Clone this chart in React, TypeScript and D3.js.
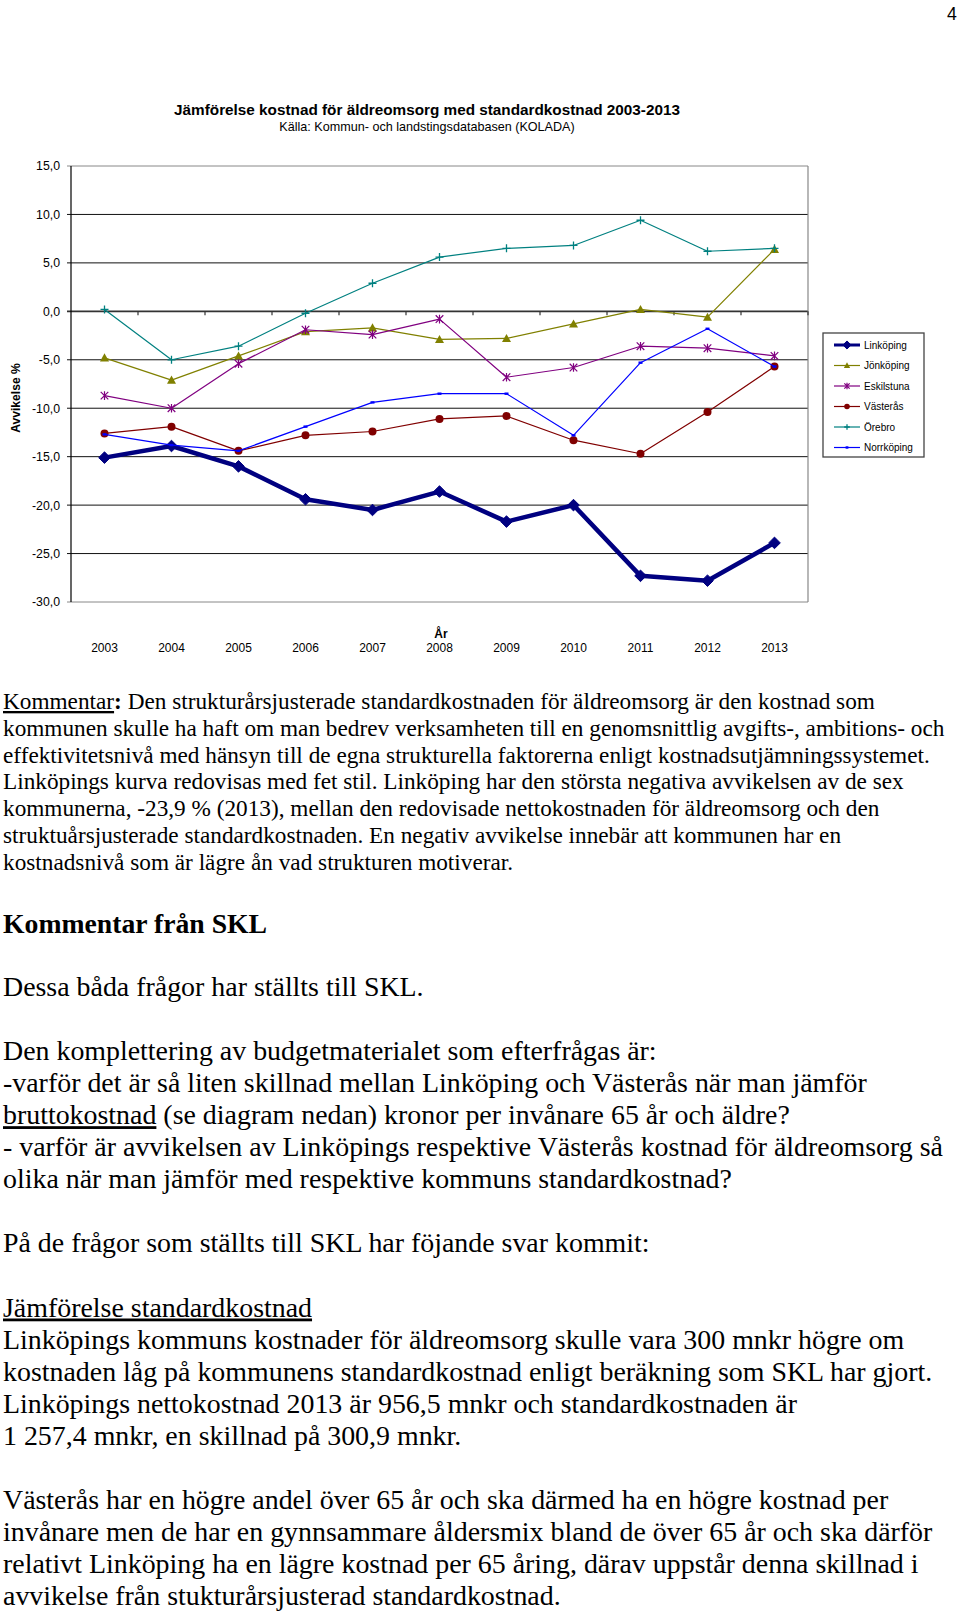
import React from "react";
import * as d3 from "d3";

const years = [2003, 2004, 2005, 2006, 2007, 2008, 2009, 2010, 2011, 2012, 2013];
const linkoping = [-15.1, -13.9, -16.0, -19.4, -20.5, -18.6, -21.7, -20.0, -27.3, -27.8, -23.9];
const jonkoping = [-4.8, -7.1, -4.6, -2.1, -1.7, -2.9, -2.8, -1.3, 0.2, -0.6, 6.4];
const eskilstuna = [-8.7, -10.0, -5.4, -1.9, -2.4, -0.8, -6.8, -5.8, -3.6, -3.8, -4.6];
const vasteras = [-12.6, -11.9, -14.4, -12.8, -12.4, -11.1, -10.8, -13.3, -14.7, -10.4, -5.7];
const orebro = [0.2, -5.0, -3.6, -0.2, 2.9, 5.6, 6.5, 6.8, 9.4, 6.2, 6.5];
const norrkoping = [-12.7, -13.8, -14.4, -11.9, -9.4, -8.5, -8.5, -12.8, -5.3, -1.8, -5.7];
const yTicks = [15, 10, 5, 0, -5, -10, -15, -20, -25, -30];

const chartTitle = "Jämförelse kostnad för äldreomsorg med standardkostnad 2003-2013";
const chartSubtitle = "Källa: Kommun- och landstingsdatabasen (KOLADA)";
const yAxisTitle = "Avvikelse %";
const xAxisTitle = "År";

type Seg = { t: string; u?: boolean; b?: boolean };
const para1: Seg[][] = [
  [{ t: "Kommentar", u: true }, { t: ":", b: true }, { t: " Den strukturårsjusterade standardkostnaden för äldreomsorg är den kostnad som" }],
  [{ t: "kommunen skulle ha haft om man bedrev verksamheten till en genomsnittlig avgifts-, ambitions- och" }],
  [{ t: "effektivitetsnivå med hänsyn till de egna strukturella faktorerna enligt kostnadsutjämningssystemet." }],
  [{ t: "Linköpings kurva redovisas med fet stil. Linköping har den största negativa avvikelsen av de sex" }],
  [{ t: "kommunerna, -23,9 % (2013), mellan den redovisade nettokostnaden för äldreomsorg och den" }],
  [{ t: "struktuårsjusterade standardkostnaden. En negativ avvikelse innebär att kommunen har en" }],
  [{ t: "kostnadsnivå som är lägre ån vad strukturen motiverar." }],
];
const heading2 = "Kommentar från SKL";
const para2: [number, Seg[]][] = [
  [0, [{ t: "Dessa båda frågor har ställts till SKL." }]],
  [2, [{ t: "Den komplettering av budgetmaterialet som efterfrågas är:" }]],
  [3, [{ t: "-varför det är så liten skillnad mellan Linköping och Västerås när man jämför" }]],
  [4, [{ t: "bruttokostnad", u: true }, { t: " (se diagram nedan) kronor per invånare 65 år och äldre?" }]],
  [5, [{ t: "- varför är avvikelsen av Linköpings respektive Västerås kostnad för äldreomsorg så" }]],
  [6, [{ t: "olika när man jämför med respektive kommuns standardkostnad?" }]],
  [8, [{ t: "På de frågor som ställts till SKL har föjande svar kommit:" }]],
  [10, [{ t: "Jämförelse standardkostnad", u: true }]],
  [11, [{ t: "Linköpings kommuns kostnader för äldreomsorg skulle vara 300 mnkr högre om" }]],
  [12, [{ t: "kostnaden låg på kommunens standardkostnad enligt beräkning som SKL har gjort." }]],
  [13, [{ t: "Linköpings nettokostnad 2013 är 956,5 mnkr och standardkostnaden är" }]],
  [14, [{ t: "1 257,4 mnkr, en skillnad på 300,9 mnkr." }]],
  [16, [{ t: "Västerås har en högre andel över 65 år och ska därmed ha en högre kostnad per" }]],
  [17, [{ t: "invånare men de har en gynnsammare åldersmix bland de över 65 år och ska därför" }]],
  [18, [{ t: "relativt Linköping ha en lägre kostnad per 65 åring, därav uppstår denna skillnad i" }]],
  [19, [{ t: "avvikelse från stukturårsjusterad standardkostnad." }]],
];

type Marker = "diamond" | "triangle" | "star" | "circle" | "plus" | "dash";
const series: { name: string; values: number[]; color: string; width: number; marker: Marker }[] = [
  { name: "Linköping", values: linkoping, color: "#000080", width: 4.5, marker: "diamond" },
  { name: "Jönköping", values: jonkoping, color: "#808000", width: 1.2, marker: "triangle" },
  { name: "Eskilstuna", values: eskilstuna, color: "#800080", width: 1.2, marker: "star" },
  { name: "Västerås", values: vasteras, color: "#800000", width: 1.2, marker: "circle" },
  { name: "Örebro", values: orebro, color: "#008080", width: 1.2, marker: "plus" },
  { name: "Norrköping", values: norrkoping, color: "#0000FF", width: 1.2, marker: "dash" },
];

function MarkerShape({ kind, color, s = 1 }: { kind: Marker; color: string; s?: number }) {
  switch (kind) {
    case "diamond": {
      const r = 5.8 * s;
      return <path d={`M0,${-r}L${r},0L0,${r}L${-r},0Z`} fill={color} stroke={color} strokeWidth={1} />;
    }
    case "triangle": {
      const r = 4.5 * s;
      return <path d={`M0,${-r}L${r},${r * 0.8}L${-r},${r * 0.8}Z`} fill={color} />;
    }
    case "star": {
      const r = 3.8 * s;
      return (
        <path d={`M${-r},${-r}L${r},${r}M${-r},${r}L${r},${-r}M0,${-r - 0.5}L0,${r + 0.5}`} stroke={color} strokeWidth={1.2} fill="none" />
      );
    }
    case "circle":
      return <circle r={4 * s} fill={color} />;
    case "plus": {
      const r = 4 * s;
      return <path d={`M${-r},0L${r},0M0,${-r}L0,${r}`} stroke={color} strokeWidth={1.3} fill="none" />;
    }
    case "dash":
      return <rect x={-2 * s} y={-1.2} width={4 * s} height={2.4} fill={color} />;
  }
}

function Line({ segs, x, y, size, family }: { segs: Seg[]; x: number; y: number; size: number; family: string }) {
  return (
    <text x={x} y={y} fontFamily={family} fontSize={size} fill="#000">
      {segs.map((s, i) => (
        <tspan key={i} fontWeight={s.b ? "bold" : "normal"} style={s.u ? { textDecoration: "underline" } : undefined}>
          {s.t}
        </tspan>
      ))}
    </text>
  );
}

export default function App() {
  const W = 960;
  const H = 1616;
  const plotL = 71, plotR = 808, plotT = 166, plotB = 602;
  const x = d3.scaleBand<number>().domain(years).range([plotL, plotR]);
  const cx = (yr: number) => (x(yr) as number) + x.bandwidth() / 2;
  const y = d3.scaleLinear().domain([-30, 15]).range([plotB, plotT]);
  const lineGen = d3
    .line<number>()
    .x((_, i) => cx(years[i]))
    .y((d) => y(d));
  const fmt = (v: number) => v.toFixed(1).replace(".", ",");
  const sans = "'Liberation Sans', Arial, sans-serif";
  const serif = "'Liberation Serif', 'Times New Roman', serif";

  const legX = 823, legY = 333, legW = 101, legH = 124;

  return (
    <svg width={W} height={H} style={{ position: "absolute", left: 0, top: 0, background: "#fff" }}>
      <rect width={W} height={H} fill="#fff" />
      <text x={952} y={20} fontFamily={sans} fontSize={17.7} textAnchor="middle">4</text>

      {/* titles */}
      <text x={427} y={114.8} fontFamily={sans} fontSize={15.3} fontWeight="bold" textAnchor="middle">{chartTitle}</text>
      <text x={427} y={130.5} fontFamily={sans} fontSize={12.6} textAnchor="middle">{chartSubtitle}</text>

      {/* grid */}
      {yTicks.map((t) => (
        <g key={t}>
          <line
            x1={plotL - 4}
            x2={plotR}
            y1={y(t)}
            y2={y(t)}
            stroke={t === 15 || t === -30 ? "#888" : t === 0 ? "#333" : "#111"}
            strokeWidth={t === 0 ? 1.6 : 1}
          />
          <text x={60} y={y(t)} dy="0.36em" fontFamily={sans} fontSize={12.3} textAnchor="end">{fmt(t)}</text>
        </g>
      ))}
      <line x1={plotR} x2={plotR} y1={plotT} y2={plotB} stroke="#888" strokeWidth={1.2} />
      <line x1={plotL} x2={plotL} y1={plotT} y2={plotB} stroke="#000" strokeWidth={1.2} />
      {years.map((yr, i) =>
        i === 0 ? null : (
          <line key={yr} x1={x(yr)} x2={x(yr)} y1={y(0)} y2={y(0) + 4} stroke="#333" strokeWidth={1.2} />
        )
      )}
      <line x1={plotR} x2={plotR} y1={y(0)} y2={y(0) + 4} stroke="#333" strokeWidth={1.2} />

      {/* x labels */}
      {years.map((yr) => (
        <text key={yr} x={cx(yr)} y={651.7} fontFamily={sans} fontSize={12} textAnchor="middle">{yr}</text>
      ))}
      <text x={441} y={637.5} fontFamily={sans} fontSize={12} fontWeight="bold" textAnchor="middle">{xAxisTitle}</text>
      <text
        transform={`translate(20,398) rotate(-90)`}
        fontFamily={sans}
        fontSize={12.1}
        fontWeight="bold"
        textAnchor="middle"
      >
        {yAxisTitle}
      </text>

      {/* series */}
      {series.map((s) => (
        <g key={s.name}>
          <path d={lineGen(s.values) || ""} fill="none" stroke={s.color} strokeWidth={s.width} strokeLinejoin="round" />
          {s.values.map((v, i) => (
            <g key={i} transform={`translate(${cx(years[i])},${y(v)})`}>
              <MarkerShape kind={s.marker} color={s.color} />
            </g>
          ))}
        </g>
      ))}

      {/* legend */}
      <rect x={legX} y={legY} width={legW} height={legH} fill="#fff" stroke="#444" strokeWidth={1.3} />
      {series.map((s, i) => {
        const ly = 345 + i * 20.5;
        return (
          <g key={s.name}>
            <line x1={834} x2={860} y1={ly} y2={ly} stroke={s.color} strokeWidth={s.name === "Linköping" ? 3 : 1.2} />
            <g transform={`translate(847,${ly})`}>
              <MarkerShape kind={s.marker} color={s.color} s={0.7} />
            </g>
            <text x={864} y={ly} dy="0.35em" fontFamily={sans} fontSize={10}>{s.name}</text>
          </g>
        );
      })}

      {/* body text */}
      {para1.map((segs, i) => (
        <Line key={i} segs={segs} x={3} y={709 + i * 26.75} size={23.25} family={serif} />
      ))}
      <text x={3} y={933} fontFamily={serif} fontSize={27.7} fontWeight="bold">{heading2}</text>
      {para2.map(([k, segs]) => (
        <Line key={k} segs={segs} x={3} y={996 + k * 32.05} size={27.9} family={serif} />
      ))}
    </svg>
  );
}
